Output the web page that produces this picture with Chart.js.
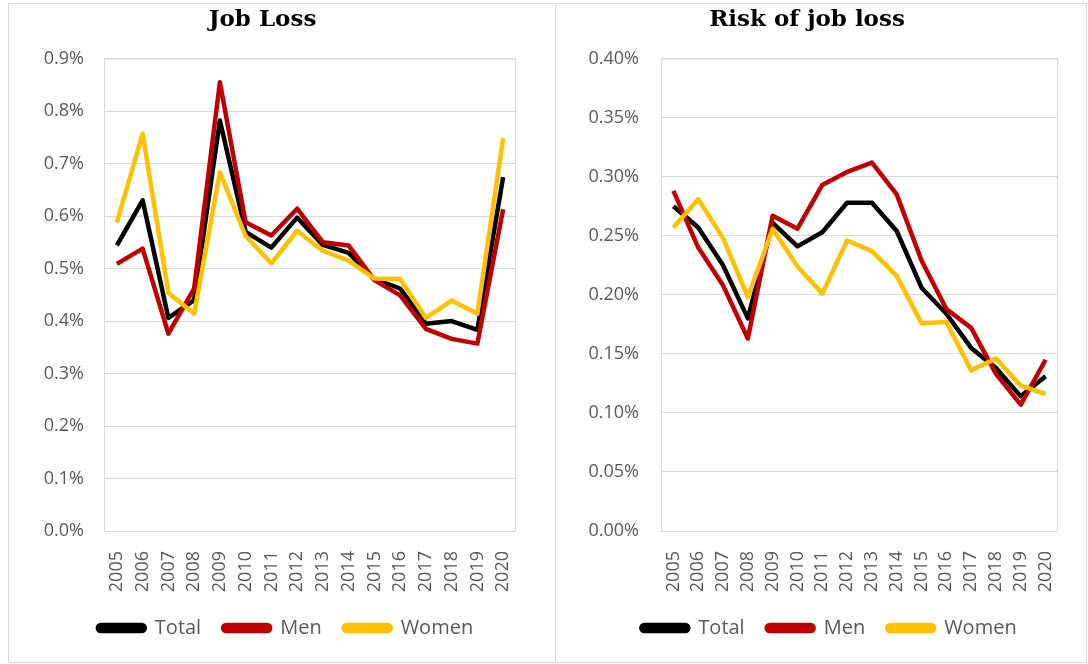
<!DOCTYPE html>
<html>
<head>
<meta charset="utf-8">
<script src="https://cdn.jsdelivr.net/npm/chart.js@4"></script>
<style>
  body { margin: 0; background: #fff; width: 1088px; height: 664px; overflow: hidden; }
  .panel { position: absolute; border: 1px solid #d9d9d9; box-sizing: border-box; }
  #left { left: 8px; top: 3px; width: 548px; height: 660px; }
  #right { left: 555px; top: 3px; width: 532px; height: 660px; }
  canvas { display: block; }
</style>
</head>
<body>
<div class="panel" id="left"><canvas id="lossChart"></canvas></div>
<div class="panel" id="right"><canvas id="riskChart"></canvas></div>
<script>
const years = ['2005','2006','2007','2008','2009','2010','2011','2012','2013','2014','2015','2016','2017','2018','2019','2020'];

// Job loss, %
const lossTotal = [0.544, 0.630, 0.406, 0.440, 0.782, 0.570, 0.540, 0.597, 0.545, 0.530, 0.480, 0.462, 0.395, 0.400, 0.383, 0.674];
const lossMen   = [0.509, 0.538, 0.376, 0.462, 0.855, 0.588, 0.563, 0.614, 0.550, 0.544, 0.478, 0.449, 0.385, 0.366, 0.357, 0.613];
const lossWomen = [0.588, 0.757, 0.454, 0.414, 0.683, 0.562, 0.510, 0.572, 0.534, 0.515, 0.481, 0.480, 0.406, 0.439, 0.414, 0.748];

// Risk of job loss, %
const riskTotal = [0.275, 0.257, 0.225, 0.180, 0.261, 0.241, 0.253, 0.278, 0.278, 0.254, 0.206, 0.184, 0.155, 0.138, 0.114, 0.131];
const riskMen   = [0.288, 0.240, 0.208, 0.163, 0.267, 0.256, 0.293, 0.304, 0.312, 0.285, 0.229, 0.188, 0.172, 0.133, 0.107, 0.145];
const riskWomen = [0.257, 0.281, 0.248, 0.198, 0.256, 0.224, 0.201, 0.246, 0.237, 0.216, 0.176, 0.177, 0.136, 0.146, 0.123, 0.116];

const seriesNames = ['Total', 'Men', 'Women'];
const seriesColors = ['#000000', '#c00000', '#ffc000'];

const tickFont = { family: '"Open Sans", sans-serif', size: 18 };
const gridColor = '#d9d9d9';

// frame around the plot area like the Excel original
const plotFrame = {
  id: 'plotFrame',
  beforeDatasetsDraw(chart) {
    const { ctx, chartArea: a } = chart;
    ctx.save();
    ctx.strokeStyle = gridColor;
    ctx.lineWidth = 1;
    ctx.strokeRect(a.left + 0.5, a.top + 0.5, a.right - a.left - 1, a.bottom - a.top);
    ctx.restore();
  }
};

// Excel centres the legend on the whole chart, Chart.js on the padded box: nudge it
const legendShift = {
  id: 'legendShift',
  afterLayout(chart, args, opts) {
    if (chart.legend) {
      chart.legend.left += opts.dx;
      chart.legend.right += opts.dx;
    }
  }
};

function makeDatasets(values) {
  return values.map((data, i) => ({
    label: seriesNames[i],
    data,
    borderColor: seriesColors[i],
    backgroundColor: seriesColors[i],
    borderWidth: 4.5,
    borderJoinStyle: 'round',
    pointRadius: 0,
    tension: 0,
    order: 3 - i
  }));
}

function createChart(canvasId, title, values, max, step, decimals, yWidth, yPad, rightPad, dx, w, h) {
  const canvas = document.getElementById(canvasId);
  canvas.width = w;
  canvas.height = h;
  return new Chart(canvas.getContext('2d'), {
    type: 'line',
    data: { labels: years, datasets: makeDatasets(values) },
    options: {
      responsive: false,
      animation: false,
      layout: { padding: { left: 0, right: rightPad, top: 2, bottom: 14 } },
      plugins: {
        title: {
          display: true,
          text: title,
          color: '#000',
          font: { family: '"DejaVu Serif", serif', size: 23, weight: 'bold' },
          padding: { top: 0, bottom: 25 }
        },
        legend: {
          position: 'bottom',
          labels: {
            color: '#595959',
            font: { family: '"Open Sans", sans-serif', size: 20 },
            boxWidth: 47,
            boxHeight: 6,
            useBorderRadius: true,
            borderRadius: 3,
            padding: 22,
            sort: (a, b) => a.datasetIndex - b.datasetIndex
          }
        },
        legendShift: { dx },
        tooltip: { enabled: false }
      },
      scales: {
        x: {
          offset: true,
          grid: { display: false },
          border: { display: false },
          ticks: { color: '#595959', font: tickFont, minRotation: 90, maxRotation: 90, padding: 12, autoSkip: false },
          afterFit(scale) { scale.height = 65; }
        },
        y: {
          min: 0,
          max,
          grid: { color: gridColor, drawTicks: false },
          border: { display: false },
          ticks: {
            stepSize: step,
            color: '#595959',
            font: tickFont,
            padding: yPad,
            callback: v => v.toFixed(decimals) + '%'
          },
          afterFit(scale) { scale.width = yWidth; }
        }
      }
    },
    plugins: [plotFrame, legendShift]
  });
}

createChart('lossChart', 'Job Loss', [lossTotal, lossMen, lossWomen], 0.9, 0.1, 1, 95, 20, 39, 23, 546, 658);
createChart('riskChart', 'Risk of job loss', [riskTotal, riskMen, riskWomen], 0.4, 0.05, 2, 105, 22, 28, 22, 530, 658);
</script>
</body>
</html>
